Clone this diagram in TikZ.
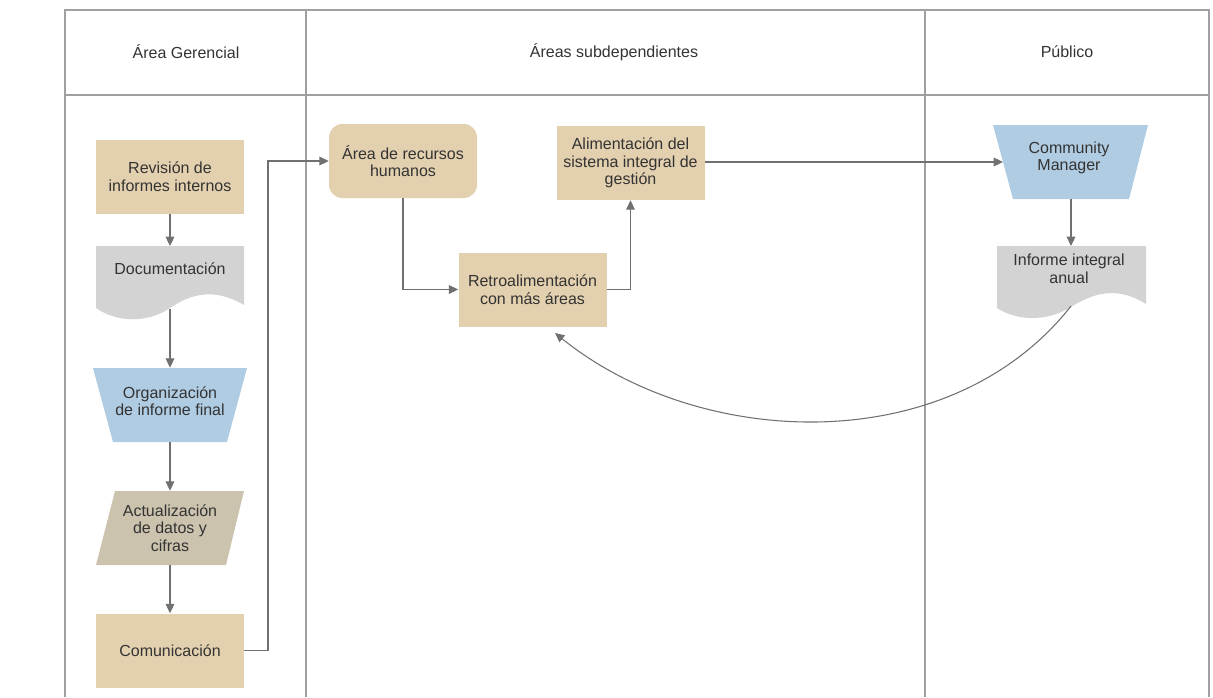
\documentclass[tikz,border=0pt]{standalone}
\usepackage{fontspec}
\setmainfont{Liberation Sans}
\usetikzlibrary{arrows.meta}
\definecolor{tanc}{HTML}{E3D0AF}
\definecolor{grayc}{HTML}{D3D3D3}
\definecolor{bluec}{HTML}{B0CCE3}
\definecolor{parac}{HTML}{CCC3AE}
\definecolor{txtc}{HTML}{333333}
\definecolor{framec}{HTML}{A0A0A0}
\definecolor{linec}{HTML}{707070}
\tikzset{
  lbl/.style={text=txtc, font=\fontsize{12}{13.2}\selectfont, align=center, inner sep=0pt},
  box/.style={lbl, fill=tanc, minimum width=111pt, minimum height=55.5pt},
  rbox/.style={box, rounded corners=10pt},
  ghost/.style={minimum width=111pt, minimum height=55.5pt, inner sep=0pt},
  frame/.style={draw=framec, line width=0.9pt},
  conn/.style={draw=linec, line width=0.8pt, -{Triangle[length=7pt,width=6.5pt]}},
}
\begin{document}
\begin{tikzpicture}[x=0.75pt,y=-0.75pt]
\useasboundingbox (0,0) rectangle (1213,697);
% swimlane frame
\draw[frame] (65,697) -- (65,10) -- (1209,10) -- (1209,697);
\draw[frame] (65,95) -- (1209,95);
\draw[frame] (306,10) -- (306,697);
\draw[frame] (925,10) -- (925,697);
\node[lbl] (h1) at (186,52) {Área Gerencial};
\node[lbl] (h2) at (614,52) {Áreas subdependientes};
\node[lbl] (h3) at (1067,52) {Público};

% shapes
\node[box] (rev) at (170,176.5) {Revisión de\\informes internos};
% Documentacion (document shape)
\fill[grayc] (96,246) -- (244,246) -- (244,305) .. controls (215,288) and (192,293) .. (170,308) .. controls (146,324) and (116,322) .. (96,308) -- cycle;
\node[lbl] (doc) at (170,269) {Documentación};
\coordinate (docb) at (170,309);
% Organizacion (trapezoid)
\fill[bluec] (93,368) -- (247,368) -- (227,442) -- (113,442) -- cycle;
\node[ghost] (orgb) at (170,405) {};
\node[lbl] (org) at (170,401) {Organización\\de informe final};
% Actualizacion (parallelogram)
\fill[parac] (115,491) -- (244,491) -- (226,565) -- (96,565) -- cycle;
\node[ghost] (actb) at (170,528) {};
\node[lbl] (act) at (170,528) {Actualización\\de datos y\\cifras};
\node[box] (com) at (170,650.5) {Comunicación};

\node[rbox] (rrhh) at (403,161) {Área de recursos\\humanos};
\node[box] (retro) at (532.5,289.5) {Retroalimentación\\con más áreas};
\node[box] (alim) at (630.5,163) {Alimentación del\\sistema integral de\\gestión};

% Community Manager (trapezoid)
\fill[bluec] (993,125) -- (1148,125) -- (1129,199) -- (1013,199) -- cycle;
\node[ghost] (cmb) at (1071,162) {};
\node[lbl] (cm) at (1069,158) {Community\\Manager};
\coordinate (cmin) at (1003,162);
% Informe integral anual (document shape)
\fill[grayc] (997,246) -- (1146,246) -- (1146,304) .. controls (1120,288) and (1098,290) .. (1071,307) .. controls (1045,323) and (1015,320) .. (997,308) -- cycle;
\node[lbl] (inf) at (1069,268.5) {Informe integral\\anual};
\coordinate (infb) at (1071,306);

% connectors
\draw[conn] (rev.south) -- (170,246);
\draw[conn] (docb) -- (orgb.north);
\draw[conn] (orgb.south) -- (actb.north);
\draw[conn] (actb.south) -- (com.north);
\draw[conn] (com.east) -- (268,650.5) -- (268,161) -- (rrhh.west);
\draw[conn] (rrhh.south) |- (retro.west);
\draw[conn] (retro.east) -| (alim.south);
\draw[conn] (alim.east |- cmin) -- (cmin);
\draw[conn] (cmb.south) -- (1071,246);
\draw[conn] (infb) .. controls (950,460) and (700,450) .. (555,333);
\end{tikzpicture}
\end{document}
